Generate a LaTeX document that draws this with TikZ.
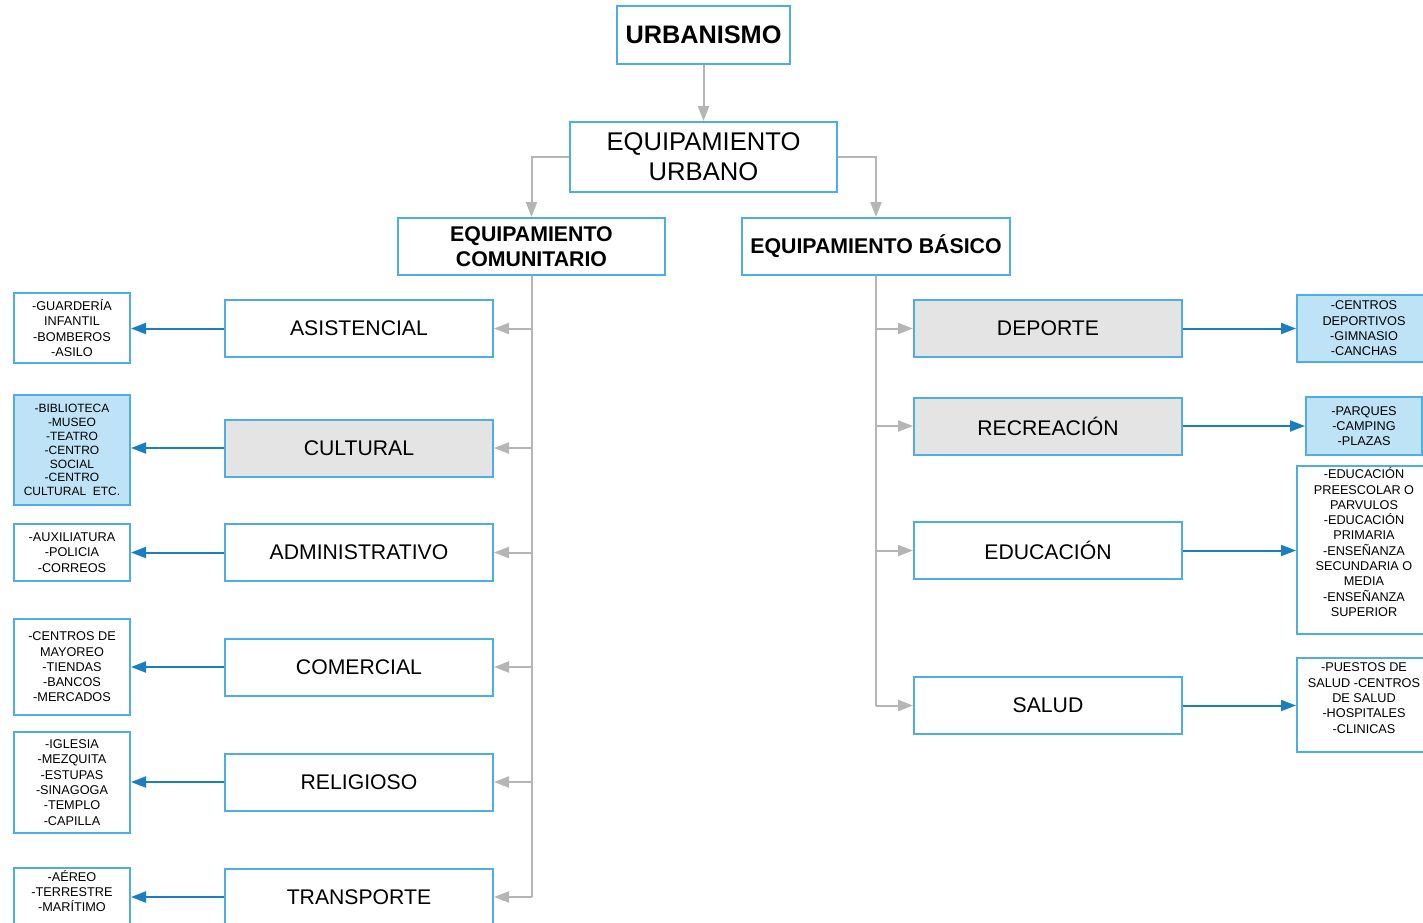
\documentclass[tikz,border=0pt]{standalone}
\usepackage{fontspec}
\setmainfont{Liberation Sans}
\usetikzlibrary{arrows.meta}
\definecolor{bordercol}{HTML}{4DAEE3}
\definecolor{arrowblue}{HTML}{1B7EC2}
\definecolor{lightblue}{HTML}{BEE3F7}
\definecolor{lightgray}{HTML}{E4E4E4}
\definecolor{linegray}{HTML}{B5B5B5}
\tikzset{
  box/.style={draw=bordercol, line width=2pt, fill=white, align=center, inner sep=0pt},
  midbox/.style={box, minimum width=268pt, minimum height=57pt, font=\fontsize{21.2}{25}\selectfont},
  listbox/.style={box, minimum width=116pt, font=\fontsize{12.7}{15.3}\selectfont},
  rlistbox/.style={box, minimum width=134pt, font=\fontsize{12.7}{15.3}\selectfont},
  grayfill/.style={fill=lightgray},
  bluefill/.style={fill=lightblue},
  grayline/.style={draw=linegray, line width=2pt},
  grayarrow/.style={grayline, -{Triangle[length=15pt,width=11pt]}},
  bluearrow/.style={draw=arrowblue, line width=2pt, -{Triangle[length=15pt,width=11pt]}},
}
\begin{document}
\begin{tikzpicture}[x=1pt,y=-1pt]
\useasboundingbox (0,0) rectangle (1423,922);
\clip (0,0) rectangle (1423,922);
\fill[white] (0,0) rectangle (1423,922);

% top levels
\node[box, minimum width=173pt, minimum height=58pt, font=\fontsize{25.3}{30}\selectfont\bfseries] (urb) at (703.5,35) {URBANISMO};
\node[box, minimum width=267pt, minimum height=70pt, font=\fontsize{25.6}{30}\selectfont] (equ) at (703.5,157) {EQUIPAMIENTO\\URBANO};
\node[box, minimum width=267pt, minimum height=57pt, font=\fontsize{21.3}{25}\selectfont\bfseries] (com) at (531.5,246.5) {EQUIPAMIENTO\\COMUNITARIO};
\node[box, minimum width=268pt, minimum height=57pt, font=\fontsize{21.3}{25}\selectfont\bfseries] (bas) at (876,246.5) {EQUIPAMIENTO BÁSICO};

% left middle
\node[midbox] (asi) at (359,328.5) {ASISTENCIAL};
\node[midbox, grayfill] (cul) at (359,448) {CULTURAL};
\node[midbox] (adm) at (359,552.5) {ADMINISTRATIVO};
\node[midbox] (cme) at (359,667) {COMERCIAL};
\node[midbox] (rel) at (359,782) {RELIGIOSO};
\node[midbox] (tra) at (359,897) {TRANSPORTE};

% right middle
\node[midbox, grayfill] (dep) at (1048,328.5) {DEPORTE};
\node[midbox, grayfill] (rec) at (1048,426) {RECREACIÓN};
\node[midbox] (edu) at (1048,550.5) {EDUCACIÓN};
\node[midbox] (sal) at (1048,705.5) {SALUD};

% left lists
\node[listbox, minimum height=70pt] (lgua) at (72,328) {-GUARDERÍA\\INFANTIL\\-BOMBEROS\\-ASILO};
\node[listbox, bluefill, minimum height=110pt, font=\fontsize{12}{13.9}\selectfont] (lbib) at (72,450) {-BIBLIOTECA\\-MUSEO\\-TEATRO\\-CENTRO\\SOCIAL\\-CENTRO\\CULTURAL\ \ ETC.};
\node[listbox, minimum height=57pt] (laux) at (72,552.5) {-AUXILIATURA\\-POLICIA\\-CORREOS};
\node[listbox, minimum height=96pt] (lmay) at (72,667) {-CENTROS DE\\MAYOREO\\-TIENDAS\\-BANCOS\\-MERCADOS};
\node[listbox, minimum height=101pt] (ligl) at (72,782.5) {-IGLESIA\\-MEZQUITA\\-ESTUPAS\\-SINAGOGA\\-TEMPLO\\-CAPILLA};
\node[listbox, minimum height=60pt] (laer) at (72,898) {-AÉREO\\-TERRESTRE\\-MARÍTIMO\\[-6pt]\strut};

% right lists
\node[rlistbox, bluefill, minimum height=67pt] (rdep) at (1364,328.5) {-CENTROS\\DEPORTIVOS\\-GIMNASIO\\-CANCHAS};
\node[box, bluefill, minimum width=116pt, minimum height=58pt, font=\fontsize{12.7}{15.3}\selectfont] (rpar) at (1364,426) {-PARQUES\\-CAMPING\\-PLAZAS};
\node[rlistbox, minimum height=168pt] (redu) at (1364,550) {-EDUCACIÓN\\PREESCOLAR O\\PARVULOS\\-EDUCACIÓN\\PRIMARIA\\-ENSEÑANZA\\SECUNDARIA O\\MEDIA\\-ENSEÑANZA\\SUPERIOR\\[-4pt]\strut};
\node[rlistbox, minimum height=94pt] (rsal) at (1364,705) {-PUESTOS DE\\SALUD -CENTROS\\DE SALUD\\-HOSPITALES\\-CLINICAS\\[-6pt]\strut};

% gray connectors (top)
\draw[grayarrow] (urb.south) -- (equ.north);
\draw[grayarrow] (equ.west) -- (com.north |- equ.west) -- (com.north);
\draw[grayarrow] (equ.east) -- (bas.north |- equ.east) -- (bas.north);

% left trunk
\draw[grayline] (com.south) -- (com.south |- tra.east);
\foreach \n in {asi,cul,adm,cme,rel,tra}
  \draw[grayarrow] (com.south |- \n.east) -- (\n.east);

% right trunk
\draw[grayline] (bas.south) -- (bas.south |- sal.west);
\foreach \n in {dep,rec,edu,sal}
  \draw[grayarrow] (bas.south |- \n.west) -- (\n.west);

% blue arrows
\draw[bluearrow] (asi.west) -- (asi.west -| lgua.east);
\draw[bluearrow] (cul.west) -- (cul.west -| lbib.east);
\draw[bluearrow] (adm.west) -- (adm.west -| laux.east);
\draw[bluearrow] (cme.west) -- (cme.west -| lmay.east);
\draw[bluearrow] (rel.west) -- (rel.west -| ligl.east);
\draw[bluearrow] (tra.west) -- (tra.west -| laer.east);
\draw[bluearrow] (dep.east) -- (dep.east -| rdep.west);
\draw[bluearrow] (rec.east) -- (rec.east -| rpar.west);
\draw[bluearrow] (edu.east) -- (edu.east -| redu.west);
\draw[bluearrow] (sal.east) -- (sal.east -| rsal.west);
\end{tikzpicture}
\end{document}
